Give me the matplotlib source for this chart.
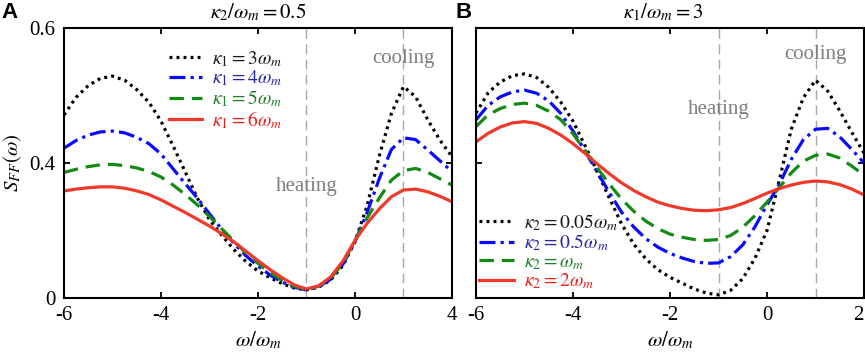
import matplotlib
matplotlib.use('Agg')
import matplotlib.pyplot as plt

plt.rcParams['font.family'] = ['Liberation Serif', 'DejaVu Serif']
plt.rcParams['mathtext.fontset'] = 'stix'

# frequency grid (omega / omega_m), same for both panels
x = [-6, -5.75, -5.5, -5.25, -5, -4.75, -4.5, -4.25, -4, -3.75, -3.5, -3.25,
     -3, -2.75, -2.5, -2.25, -2, -1.75, -1.5, -1.25, -1, -0.75, -0.5, -0.25,
     0, 0.25, 0.5, 0.75, 1, 1.25, 1.5, 1.75, 2]

# panel A: kappa2/omega_m = 0.5, varying kappa1
a_k3 = [0.407, 0.446, 0.472, 0.488, 0.493, 0.484, 0.463, 0.435, 0.393, 0.338, 0.280, 0.222,
        0.174, 0.140, 0.108, 0.081, 0.060, 0.045, 0.032, 0.022, 0.018, 0.024, 0.040, 0.072,
        0.125, 0.205, 0.315, 0.410, 0.470, 0.447, 0.396, 0.351, 0.314]
a_k4 = [0.333, 0.350, 0.362, 0.369, 0.371, 0.367, 0.357, 0.343, 0.320, 0.287, 0.254, 0.222,
        0.187, 0.153, 0.122, 0.094, 0.071, 0.051, 0.035, 0.024, 0.018, 0.025, 0.042, 0.075,
        0.125, 0.190, 0.265, 0.330, 0.356, 0.352, 0.329, 0.305, 0.281]
a_k5 = [0.279, 0.286, 0.292, 0.296, 0.297, 0.294, 0.289, 0.281, 0.269, 0.251, 0.230, 0.207,
        0.181, 0.154, 0.127, 0.100, 0.077, 0.056, 0.039, 0.026, 0.019, 0.026, 0.044, 0.077,
        0.128, 0.178, 0.222, 0.262, 0.283, 0.288, 0.279, 0.265, 0.251]
a_k6 = [0.238, 0.242, 0.245, 0.247, 0.247, 0.244, 0.238, 0.230, 0.218, 0.204, 0.190, 0.175,
        0.160, 0.143, 0.125, 0.104, 0.083, 0.063, 0.045, 0.029, 0.020, 0.027, 0.047, 0.082,
        0.128, 0.166, 0.198, 0.225, 0.240, 0.242, 0.236, 0.226, 0.214]

# panel B: kappa1/omega_m = 3, varying kappa2
b_k005 = [0.411, 0.456, 0.480, 0.494, 0.498, 0.490, 0.468, 0.435, 0.393, 0.338, 0.281, 0.222,
          0.165, 0.120, 0.087, 0.063, 0.046, 0.033, 0.020, 0.011, 0.007, 0.017, 0.043, 0.088,
          0.150, 0.260, 0.375, 0.445, 0.484, 0.460, 0.416, 0.368, 0.322]
b_k05 = [0.396, 0.428, 0.447, 0.458, 0.462, 0.455, 0.438, 0.410, 0.371, 0.326, 0.280, 0.234,
         0.191, 0.158, 0.132, 0.113, 0.099, 0.089, 0.081, 0.077, 0.078, 0.092, 0.118, 0.158,
         0.207, 0.252, 0.308, 0.352, 0.375, 0.377, 0.358, 0.330, 0.300]
b_k1 = [0.381, 0.407, 0.421, 0.430, 0.433, 0.428, 0.415, 0.396, 0.365, 0.327, 0.289, 0.253,
        0.220, 0.193, 0.171, 0.154, 0.142, 0.135, 0.130, 0.128, 0.130, 0.139, 0.157, 0.183,
        0.213, 0.245, 0.278, 0.304, 0.317, 0.320, 0.311, 0.293, 0.273]
b_k2 = [0.347, 0.366, 0.380, 0.389, 0.392, 0.388, 0.377, 0.362, 0.343, 0.321, 0.298, 0.276,
        0.256, 0.239, 0.225, 0.213, 0.205, 0.199, 0.195, 0.194, 0.196, 0.201, 0.210, 0.221,
        0.233, 0.243, 0.251, 0.257, 0.260, 0.258, 0.252, 0.242, 0.229]

labels_a = [r'$\kappa_1 = 3\omega_m$', r'$\kappa_1 = 4\omega_m$',
            r'$\kappa_1 = 5\omega_m$', r'$\kappa_1 = 6\omega_m$']
labels_b = [r'$\kappa_2 = 0.05\omega_m$', r'$\kappa_2 = 0.5\omega_m$',
            r'$\kappa_2 = \omega_m$', r'$\kappa_2 = 2\omega_m$']

xticks = [-6, -4, -2, 0, 2]
xticklabels_a = ['-6', '-4', '-2', '0', '4']
xticklabels_b = ['-6', '-4', '-2', '0', '2']
yticks = [0, 0.3, 0.6]
yticklabels = ['0', '0.4', '0.6']

colors = ['black', '#0a0aff', '#138a13', '#f0392b']
text_colors = ['#1a1a1a', '#2626a0', '#1f7f2a', '#ec1f1f']
styles = [(0, (0.9, 1.3)), (0, (5, 1.6, 1, 1.6)), (0, (4.5, 2.5)), '-']

fig = plt.figure(figsize=(8.65, 3.52), dpi=100)
ax_a = fig.add_axes([64 / 865, 54 / 352, 388 / 865, 270 / 352])
ax_b = fig.add_axes([476 / 865, 54 / 352, 388 / 865, 270 / 352])

for ax, series, labels in [(ax_a, [a_k3, a_k4, a_k5, a_k6], labels_a),
                           (ax_b, [b_k005, b_k05, b_k1, b_k2], labels_b)]:
    for s, c, ls, lab in zip(series, colors, styles, labels):
        ax.plot(x, s, color=c, linestyle=ls, lw=2.3, label=lab)
    for xv in [-1, 1]:
        ax.axvline(xv, color='#a8a8a8', lw=1, dashes=(7, 4), zorder=0)
    ax.set_xlim(-6, 2)
    ax.set_ylim(0, 0.6)
    ax.set_xticks(xticks)
    ax.set_yticks(yticks)
    ax.tick_params(direction='in', top=True, right=True, length=4, width=1.3,
                   labelsize=15, pad=6)
    for sp in ax.spines.values():
        sp.set_linewidth(1.5)

ax_a.set_xticklabels(xticklabels_a)
ax_a.set_yticklabels(yticklabels)
ax_b.set_xticklabels(xticklabels_b)
ax_b.set_yticklabels([])
ax_b.get_xticklabels()[-1].set_ha('right')

grey = '#7f7f7f'
ax_a.text(-1, 0.247, 'heating', color=grey, fontsize=15, ha='center', va='center')
ax_a.text(1, 0.533, 'cooling', color=grey, fontsize=15, ha='center', va='center')
ax_b.text(-1, 0.418, 'heating', color=grey, fontsize=15, ha='center', va='center')
ax_b.text(1, 0.54, 'cooling', color=grey, fontsize=15, ha='center', va='center')

leg_a = ax_a.legend(loc='upper left', bbox_to_anchor=(0.27, 0.922), frameon=False,
                    fontsize=14, handlelength=1.7, handletextpad=0.5,
                    labelspacing=0.0, borderpad=0, borderaxespad=0,
                    labelcolor=text_colors)
leg_b = ax_b.legend(loc='lower left', bbox_to_anchor=(0.008, 0.025), frameon=False,
                    fontsize=14, handlelength=1.8, handletextpad=0.5,
                    labelspacing=0.0, borderpad=0, borderaxespad=0,
                    labelcolor=text_colors)

fig.text(258 / 865, 1 - 12 / 352, r'$\kappa_2/\omega_m = 0.5$', fontsize=15,
         ha='center', va='center')
fig.text(663 / 865, 1 - 12 / 352, r'$\kappa_1/\omega_m = 3$', fontsize=15,
         ha='center', va='center')
fig.text(258 / 865, 1 - 340 / 352, r'$\omega/\omega_m$', fontsize=15,
         ha='center', va='center')
fig.text(670 / 865, 1 - 340 / 352, r'$\omega/\omega_m$', fontsize=15,
         ha='center', va='center')
fig.text(13 / 865, 1 - 163 / 352, r'$S_{FF}(\omega)$', fontsize=15,
         ha='center', va='center', rotation=90)
fig.text(1 / 865, 1 - 12 / 352, 'A', fontsize=16, fontweight='bold',
         family='Liberation Sans', ha='left', va='center')
fig.text(456 / 865, 1 - 12 / 352, 'B', fontsize=16, fontweight='bold',
         family='Liberation Sans', ha='left', va='center')

fig.savefig('out.png', dpi=100)
